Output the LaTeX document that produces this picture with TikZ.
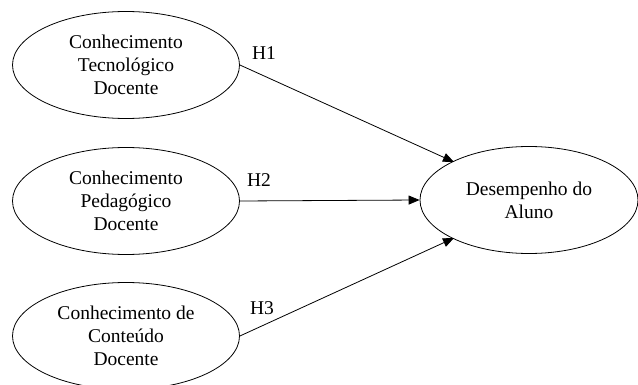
\documentclass[tikz,border=0pt]{standalone}
\usepackage{fontspec}
\setmainfont{Liberation Serif}
\usetikzlibrary{shapes.geometric,arrows.meta}
\begin{document}
\begin{tikzpicture}[x=1pt,y=-1pt,
  construct/.style={ellipse,draw,line width=0.8pt,minimum width=227pt,minimum height=107pt,inner sep=0pt,align=center,font=\fontsize{19.5}{23}\selectfont},
  path/.style={line width=0.8pt,-{Triangle[length=11pt,width=9pt]}},
  hlab/.style={font=\fontsize{19.5}{22}\selectfont}]
\useasboundingbox (0,0) rectangle (638,385);
\node[construct] (ctd) at (126,65) {Conhecimento\\Tecnológico\\Docente};
\node[construct] (cpd) at (126,201) {Conhecimento\\Pedagógico\\Docente};
\node[construct] (ccd) at (126,336) {Conhecimento de\\Conteúdo\\Docente};
\node[construct,minimum width=218pt] (da) at (529,200) {Desempenho do\\Aluno};
\coordinate (e1) at (454,162);
\coordinate (e3) at (454,238);
\draw[path] (ctd.east) -- (e1);
\draw[path] (cpd.east) -- (da.west);
\draw[path] (ccd.east) -- (e3);
\node[hlab] (h1) at (264,53) {H1};
\node[hlab] (h2) at (259,180) {H2};
\node[hlab] (h3) at (262,308) {H3};
\end{tikzpicture}
\end{document}
